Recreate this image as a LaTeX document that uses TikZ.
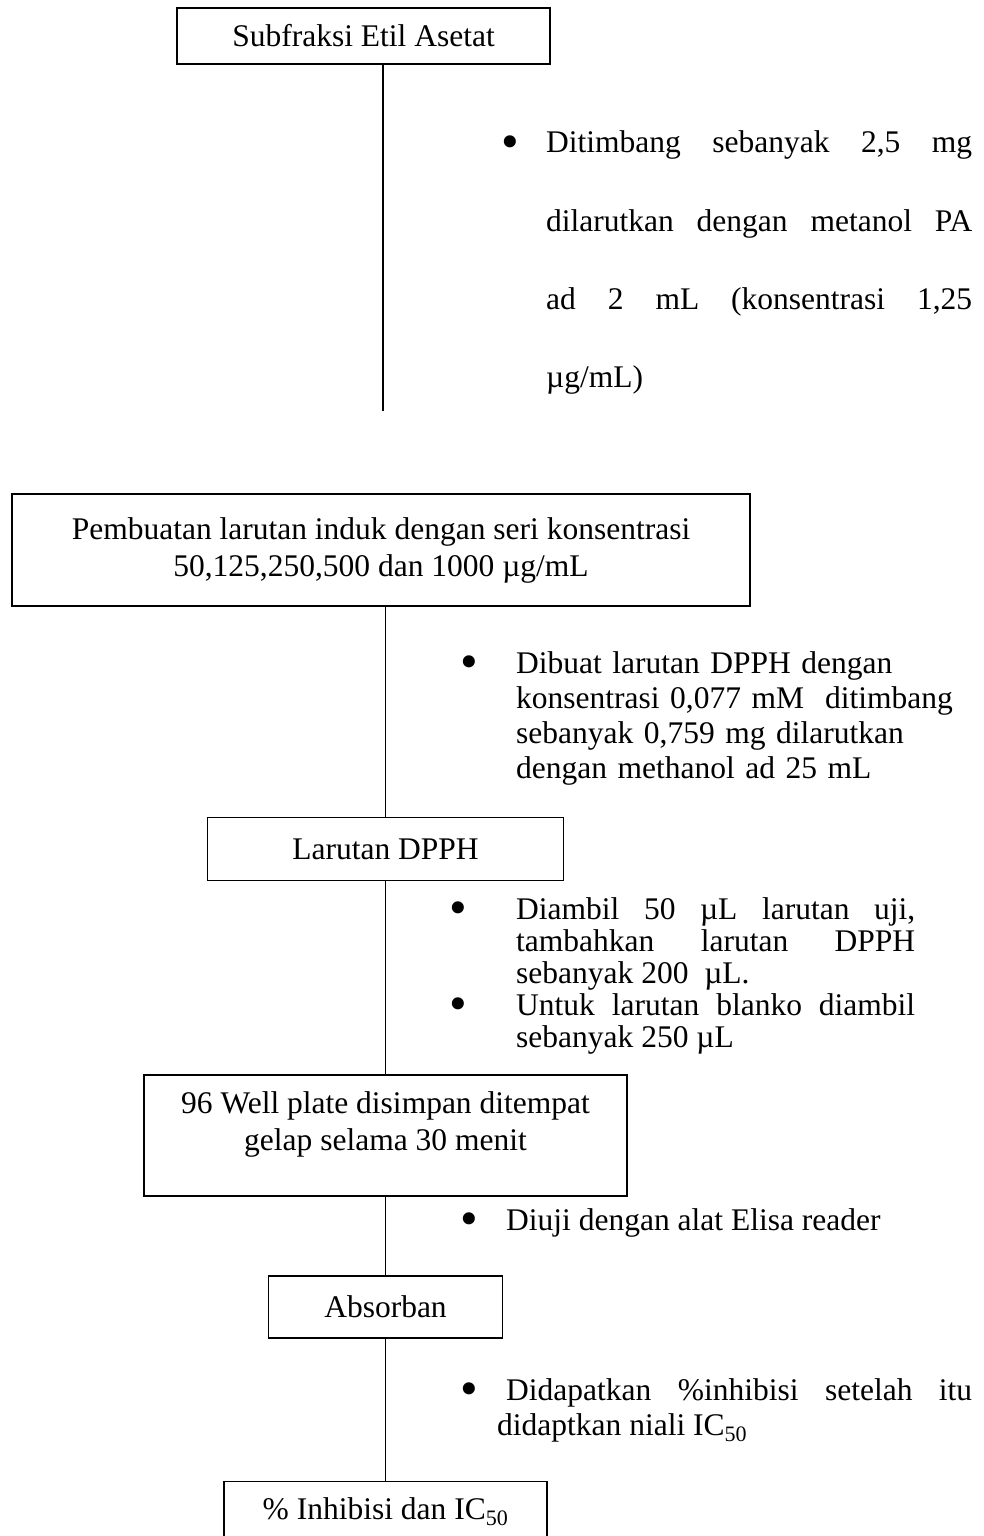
\documentclass[tikz,border=0pt]{standalone}
\usepackage{fontspec}
\setmainfont{Liberation Serif}
\usepackage{graphicx}
\usepackage{tikz}

\newcommand{\dotmark}{\raisebox{-5.5pt}{\scalebox{1.6}{\textbullet}}}
\newcommand{\bulitem}[2]{\hangindent=#1\hangafter=1\noindent\makebox[#1][l]{\dotmark}#2\par}

\begin{document}
\begin{tikzpicture}[
    x=1pt, y=-1pt,
    box/.style={draw, line width=1.4pt, inner sep=0pt, align=center,
                font=\fontsize{31.5}{37}\selectfont},
    note/.style={anchor=base west, inner sep=0pt,
                 font=\fontsize{31.5}{35}\selectfont},
    stem/.style={line width=1.2pt}
  ]
  \useasboundingbox (0,0) rectangle (984,1536);

  \node[box, minimum width=373, minimum height=56] (b1) at (363.5,36) {Subfraksi Etil Asetat};
  \coordinate (stem1) at (383,411);

  \node[note, text width=470.5, align=justify, font=\fontsize{31.5}{78.3}\selectfont] (n1) at (501.5,153)
    {\bulitem{44.5pt}{Ditimbang sebanyak 2,5 mg\linebreak dilarutkan dengan metanol PA\linebreak ad 2 mL (konsentrasi 1,25\linebreak µg/mL)}};

  \node[box, minimum width=738, minimum height=112] (b2) at (381,550)
    {Pembuatan larutan induk dengan seri konsentrasi\\50,125,250,500 dan 1000 µg/mL};

  \node[note, text width=520, align=left] (n2) at (460.5,673)
    {\bulitem{55.5pt}{Dibuat larutan DPPH dengan\newline konsentrasi 0,077 mM\ \ ditimbang\newline sebanyak 0,759 mg dilarutkan\newline dengan methanol ad 25 mL}};

  \node[box, minimum width=356, minimum height=63] (b3) at (385.5,849) {Larutan DPPH};

  \node[note, text width=465.5, align=justify, font=\fontsize{31.5}{32}\selectfont] (n3) at (449.5,919)
    {\bulitem{66.5pt}{Diambil 50 µL larutan uji,\linebreak tambahkan larutan DPPH\linebreak sebanyak 200\ \ µL.}%
     \bulitem{66.5pt}{Untuk larutan blanko diambil\linebreak sebanyak 250 µL}};

  \node[box, minimum width=483, minimum height=121] (b4) at (385.5,1135.5)
    {96 Well plate disimpan ditempat\\gelap selama 30 menit\\[-8pt]\mbox{}};

  \node[note] (n4) at (460.5,1230) {\makebox[45.5pt][l]{\dotmark}Diuji dengan alat Elisa reader};

  \node[box, minimum width=234, minimum height=62] (b5) at (385.5,1307) {Absorban};

  \node[note, text width=511.5, align=justify] (n5) at (460.5,1400)
    {\bulitem{36.5pt}{\hspace{9pt}Didapatkan \%inhibisi setelah itu\linebreak didaptkan niali IC\textsubscript{50}}};

  \node[box, minimum width=323, minimum height=60, anchor=north] (b6) at (385.5,1481)
    {\% Inhibisi dan IC\textsubscript{50}};

  \draw[stem] (b1.south -| stem1) -- (stem1);
  \draw[stem] (b2.south -| b3.north) -- (b3.north);
  \draw[stem] (b3) -- (b4);
  \draw[stem] (b4) -- (b5);
  \draw[stem] (b5) -- (b6);
\end{tikzpicture}
\end{document}
